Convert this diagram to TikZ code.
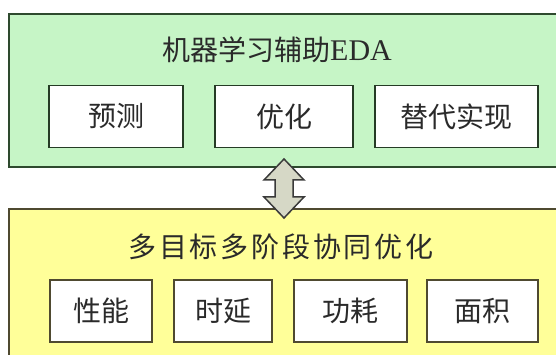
\documentclass[tikz,border=0pt]{standalone}
\usepackage{fontspec}
\setmainfont{Liberation Serif}
\newfontfamily\cjk{Noto Sans CJK SC}
\usetikzlibrary{calc}
\definecolor{gfill}{HTML}{C6F5C6}
\definecolor{gline}{HTML}{2E4A2E}
\definecolor{yfill}{HTML}{FFFF99}
\definecolor{yline}{HTML}{4F4A30}
\definecolor{afill}{HTML}{D6D8C6}
\definecolor{aline}{HTML}{3A3A3A}
\definecolor{txt}{HTML}{2A2A2A}
\tikzset{
  panel/.style={draw, line width=2pt, anchor=north west, inner sep=0pt},
  subbox/.style={draw, fill=white, line width=1.8pt, minimum height=62pt, inner sep=0pt, text=txt, font=\cjk\fontsize{28}{28}\selectfont},
  ttl/.style={text=txt, inner sep=0pt, font=\cjk\fontsize{28}{28}\selectfont},
  blockarrow/.style={draw=aline, fill=afill, line width=1.5pt, line join=miter}
}
\begin{document}
\begin{tikzpicture}[x=1pt,y=-1pt]
\useasboundingbox (0,0) rectangle (556,355);
\begin{scope}
\clip (0,0) rectangle (556,355);
\node[panel, draw=gline, fill=gfill, minimum width=560pt, minimum height=153pt] (ml) at (8,13) {};
\node[panel, draw=yline, fill=yfill, minimum width=560pt, minimum height=160pt] (mo) at (8,208) {};
\end{scope}
\node[ttl] (mlt) at (277,50) {机器学习辅助{\rmfamily\fontsize{30}{30}\selectfont EDA}};
\node[subbox, draw=gline!80!black, minimum width=134pt] (p1) at (116,116.5) {预测};
\node[subbox, draw=gline!80!black, minimum width=138pt] (p2) at (284,116.5) {优化};
\node[subbox, draw=gline!80!black, minimum width=163pt] (p3) at (456.5,116.5) {替代实现};
\node[ttl, font=\cjk\fontsize{28}{28}\selectfont\addfontfeature{LetterSpace=10}] (mot) at (281,247) {多目标多阶段协同优化};
\node[subbox, draw=yline, minimum width=102pt] (q1) at (101,311) {性能};
\node[subbox, draw=yline, minimum width=98pt] (q2) at (223,311) {时延};
\node[subbox, draw=yline, minimum width=113pt] (q3) at (350.5,311) {功耗};
\node[subbox, draw=yline, minimum width=111pt] (q4) at (482.5,311) {面积};
\coordinate (at) at ($(ml.south -| p2.south)+(0,-9)$);
\coordinate (ab) at ($(mo.north -| p2.south)+(0,10)$);
\draw[blockarrow] (at) -- ($(at)+(20,21)$) -- ($(at)+(9,21)$) -- ($(ab)+(9,-21)$) -- ($(ab)+(20,-21)$) -- (ab)
  -- ($(ab)+(-20,-21)$) -- ($(ab)+(-9,-21)$) -- ($(at)+(-9,21)$) -- ($(at)+(-20,21)$) -- cycle;
\end{tikzpicture}
\end{document}
